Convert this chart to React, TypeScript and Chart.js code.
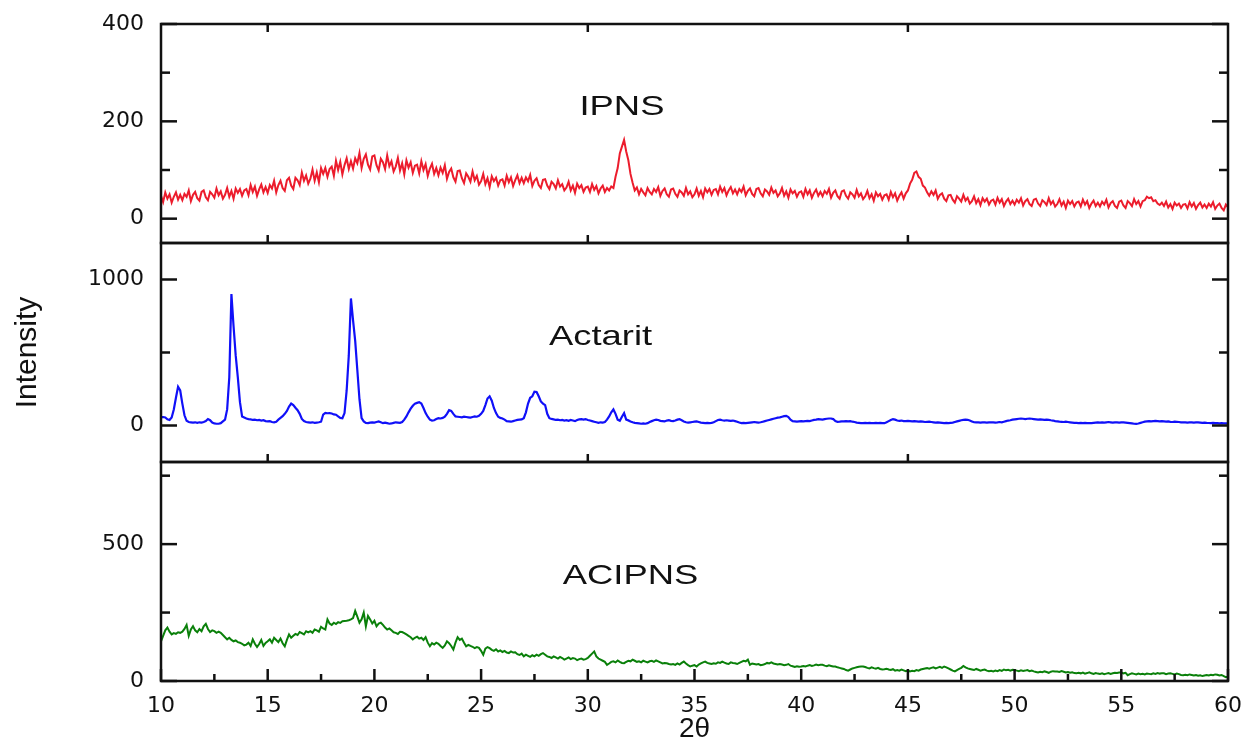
import React, { useEffect, useRef } from "react";
import { Chart, registerables } from "chart.js";

Chart.register(...registerables);

// 2θ grid of the recorded patterns
const twoThetaStart = 10;
const twoThetaStep = 0.1;

// IPNS (red) intensities, 10.0 … 60.0 in 0.1° steps
const ipnsIntensity = [
  47, 34, 54, 41, 50, 33, 45, 54, 39, 49,
  38, 51, 45, 58, 36, 49, 55, 42, 37, 55,
  58, 44, 38, 55, 50, 43, 62, 48, 56, 41,
  49, 63, 45, 57, 41, 62, 53, 61, 47, 58,
  61, 48, 69, 55, 66, 47, 60, 70, 54, 65,
  53, 69, 62, 78, 54, 69, 78, 63, 57, 79,
  84, 68, 61, 84, 79, 69, 95, 78, 89, 72,
  82, 101, 78, 95, 75, 104, 92, 104, 86, 102,
  107, 88, 119, 100, 117, 91, 110, 124, 102, 118,
  103, 124, 114, 135, 104, 123, 132, 111, 101, 128,
  130, 110, 99, 123, 116, 102, 130, 108, 118, 97,
  107, 125, 99, 114, 91, 120, 105, 116, 94, 109,
  111, 93, 118, 100, 112, 88, 103, 113, 92, 104,
  89, 105, 94, 110, 82, 96, 103, 85, 76, 98,
  99, 83, 73, 93, 86, 76, 97, 79, 88, 70,
  77, 92, 71, 83, 65, 87, 77, 84, 68, 79,
  81, 68, 88, 75, 85, 67, 79, 89, 73, 84,
  73, 85, 77, 90, 67, 78, 83, 69, 63, 80,
  81, 68, 61, 76, 71, 62, 79, 66, 71, 58,
  64, 76, 58, 68, 53, 72, 63, 69, 55, 64,
  66, 55, 71, 59, 67, 52, 62, 68, 55, 63,
  58, 66, 63, 86, 104, 134, 148, 162, 138, 120,
  92, 74, 58, 64, 50, 61, 54, 48, 63, 55,
  50, 61, 55, 65, 47, 57, 62, 50, 45, 60,
  62, 51, 45, 58, 54, 47, 63, 50, 56, 44,
  50, 62, 47, 57, 44, 62, 54, 61, 49, 59,
  61, 50, 66, 55, 63, 48, 58, 65, 52, 60,
  50, 61, 55, 66, 48, 57, 62, 51, 46, 61,
  63, 52, 46, 60, 56, 49, 64, 53, 58, 46,
  52, 63, 47, 56, 43, 60, 52, 57, 45, 54,
  56, 45, 61, 50, 58, 43, 53, 60, 47, 55,
  46, 57, 51, 61, 43, 53, 58, 46, 41, 56,
  58, 47, 41, 54, 50, 43, 59, 46, 52, 40,
  46, 57, 42, 50, 37, 54, 46, 51, 39, 48,
  50, 39, 55, 44, 52, 37, 47, 54, 41, 52,
  58, 72, 80, 94, 97, 86, 82, 68, 64, 54,
  47, 56, 49, 58, 41, 49, 52, 41, 36, 48,
  49, 39, 33, 46, 41, 35, 49, 37, 43, 31,
  36, 46, 32, 40, 28, 42, 35, 41, 29, 37,
  39, 29, 43, 33, 40, 26, 35, 41, 30, 37,
  29, 39, 33, 42, 27, 36, 40, 30, 26, 39,
  41, 31, 26, 38, 34, 28, 42, 30, 36, 25,
  30, 40, 27, 35, 22, 37, 30, 36, 25, 33,
  35, 25, 39, 29, 36, 22, 31, 37, 26, 33,
  25, 35, 29, 39, 23, 32, 36, 26, 22, 35,
  37, 27, 22, 36, 32, 26, 40, 30, 36, 25,
  36, 38, 45, 42, 44, 36, 38, 31, 28, 33,
  26, 35, 23, 30, 20, 33, 27, 31, 22, 29,
  30, 21, 34, 25, 32, 20, 28, 33, 23, 29,
  22, 31, 25, 34, 20, 27, 31, 22, 17, 29,
  23,
];

// Actarit (blue) intensities, 10.0 … 60.0 in 0.1° steps
const actaritIntensity = [
  58, 58, 55, 42, 38, 55, 110, 190, 265, 240,
  150, 70, 32, 24, 22, 20, 22, 18, 22, 20,
  24, 30, 44, 36, 20, 14, 12, 12, 16, 28,
  40, 110, 330, 900, 680, 480, 330, 160, 62, 55,
  48, 44, 42, 38, 40, 36, 38, 34, 36, 30,
  28, 30, 24, 22, 26, 40, 52, 64, 80, 100,
  130, 150, 140, 122, 105, 80, 45, 30, 24, 22,
  20, 22, 18, 20, 22, 26, 75, 86, 84, 85,
  82, 76, 74, 62, 52, 50, 85, 240, 480, 870,
  720, 580, 380, 180, 50, 28, 18, 16, 20, 22,
  20, 24, 28, 22, 16, 20, 16, 12, 14, 18,
  22, 20, 18, 24, 40, 62, 90, 115, 135, 150,
  155, 160, 150, 120, 85, 60, 40, 34, 36, 44,
  50, 48, 52, 60, 80, 105, 100, 80, 62, 60,
  58, 56, 60, 58, 56, 54, 58, 62, 60, 66,
  80, 100, 140, 185, 200, 170, 120, 85, 60, 52,
  48, 40, 30, 28, 26, 30, 34, 38, 40, 42,
  50, 90, 150, 190, 200, 232, 230, 200, 165, 150,
  140, 80, 50, 45, 42, 38, 40, 36, 38, 34,
  36, 32, 38, 34, 30, 38, 42, 44, 40, 44,
  38, 34, 30, 26, 22, 18, 22, 20, 24, 40,
  62, 90, 110, 80, 40, 32, 60, 85, 40, 35,
  28, 22, 18, 16, 14, 12, 14, 12, 16, 24,
  30, 36, 40, 38, 32, 30, 28, 34, 36, 32,
  30, 34, 40, 44, 36, 28, 22, 20, 22, 24,
  26, 28, 24, 20, 18, 16, 18, 16, 18, 22,
  30, 38, 40, 36, 34, 36, 34, 32, 34, 30,
  26, 20, 16, 18, 16, 18, 20, 22, 24, 22,
  20, 22, 26, 30, 34, 38, 42, 46, 50, 54,
  56, 60, 64, 66, 58, 40, 30, 28, 26, 28,
  30, 28, 30, 32, 30, 34, 38, 40, 44, 42,
  40, 44, 46, 48, 48, 44, 30, 25, 26, 28,
  28, 30, 28, 30, 26, 24, 20, 18, 16, 16,
  18, 16, 18, 16, 16, 18, 16, 18, 16, 16,
  22, 30, 38, 44, 40, 34, 32, 34, 30, 30,
  32, 30, 28, 30, 28, 26, 28, 26, 24, 25,
  26, 24, 22, 20, 22, 20, 18, 16, 18, 16,
  18, 20, 24, 28, 32, 36, 38, 40, 39, 34,
  28, 22, 21, 22, 20, 22, 21, 20, 22, 21,
  22, 20, 21, 24, 22, 26, 30, 34, 36, 40,
  42, 44, 46, 48, 46, 44, 46, 48, 46, 44,
  42, 40, 42, 40, 38, 40, 39, 36, 34, 30,
  28, 26, 25, 24, 26, 24, 22, 20, 18, 18,
  16, 18, 16, 18, 16, 17, 16, 18, 20, 22,
  20, 22, 20, 22, 24, 22, 20, 22, 21, 20,
  22, 21, 20, 18, 16, 14, 12, 11, 14, 18,
  22, 26, 28, 30, 28, 30, 32, 30, 28, 30,
  28, 26, 28, 25, 24, 26, 25, 24, 22, 21,
  22, 20, 21, 22, 20, 21, 22, 20, 18, 20,
  18, 17, 16, 18, 16, 16, 15, 16, 14, 15,
  14,
];

// ACIPNS (green) intensities, 10.0 … 60.0 in 0.1° steps
const acipnsIntensity = [
  145, 165, 185, 195, 180, 170, 175, 172, 178, 176,
  180, 190, 205, 165, 188, 200, 185, 178, 190, 182,
  200, 209, 190, 179, 185, 182, 176, 180, 176, 168,
  160, 152, 158, 150, 145, 148, 142, 140, 136, 130,
  133, 140, 128, 152, 136, 124, 135, 150, 128, 139,
  145, 152, 140, 158, 150, 142, 155, 138, 127, 150,
  170, 158, 165, 172, 168, 179, 175, 170, 182, 178,
  182, 176, 188, 185, 180, 198, 192, 188, 225, 210,
  205, 213, 208, 215, 212, 218, 219, 220, 222, 225,
  230, 256, 235, 213, 225, 250, 200, 238, 225, 210,
  220, 200, 210, 213, 205, 195, 188, 192, 185, 178,
  176, 172, 180, 179, 175, 170, 165, 160, 152, 158,
  162, 155, 158, 150, 160, 140, 127, 138, 133, 140,
  136, 128, 121, 130, 145, 138, 128, 115, 140, 160,
  150, 155, 140, 127, 132, 128, 125, 120, 124, 121,
  110, 96, 118, 124, 120, 114, 110, 116, 108, 112,
  106, 110, 104, 102, 108, 104, 105, 98, 95, 100,
  90, 96, 92, 88, 94, 90, 96, 92, 98, 102,
  96, 90, 88, 84, 90, 86, 82, 88, 84, 78,
  82, 86, 80, 84, 82, 76, 80, 82, 78, 80,
  84, 92, 100, 108, 90, 82, 78, 74, 70, 59,
  64, 70, 72, 68, 75, 70, 66, 65, 70, 74,
  72, 78, 74, 70, 72, 68, 74, 71, 68, 72,
  74, 70, 75, 72, 68, 64, 66, 65, 62, 60,
  62, 59, 64, 60, 66, 71, 64, 58, 53, 56,
  58, 53, 60, 64, 68, 71, 66, 64, 62, 65,
  63, 68, 66, 71, 67, 64, 62, 68, 66, 65,
  62, 66, 70, 74, 72, 78, 59, 64, 62, 60,
  62, 58, 59, 62, 66, 64, 68, 64, 62, 60,
  62, 60, 58, 59, 62, 56, 54, 51, 54, 52,
  53, 55, 53, 56, 58, 55, 57, 60, 58, 59,
  59, 56, 54, 57, 55, 53, 53, 50, 48, 46,
  44, 40, 38, 42, 46, 48, 50, 52, 53, 53,
  51, 48, 46, 50, 47, 45, 48, 44, 42, 43,
  45, 42, 40, 43, 38, 40, 38, 42, 39, 36,
  38, 35, 37, 36, 40, 38, 42, 44, 46, 47,
  45, 48, 50, 46, 49, 52, 48, 53, 50, 46,
  42, 38, 35, 40, 44, 48, 55, 50, 46, 44,
  42, 40, 44, 41, 38, 40, 42, 38, 36, 37,
  35, 38, 36, 40, 37, 42, 39, 41, 38, 41,
  40, 38, 36, 39, 37, 38, 40, 36, 38, 35,
  33, 31, 34, 32, 35, 33, 30, 34, 36, 35,
  35, 33, 36, 34, 31, 33, 30, 32, 29, 28,
  30, 28, 31, 27, 29, 32, 28, 26, 29, 27,
  26, 28, 25, 27, 29, 26, 28, 30, 29, 31,
  31, 28, 30, 21, 25, 28, 26, 24, 27, 25,
  26, 24, 27, 26, 25, 28, 26, 29, 27, 28,
  28, 25, 27, 28, 26, 24, 27, 25, 22, 21,
  23, 21, 24, 22, 20, 22, 19, 21, 18, 20,
  22, 20, 23, 21, 24, 23, 20, 22, 18, 14,
  16,
];

// axis ticks
const xTickValues = [10, 15, 20, 25, 30, 35, 40, 45, 50, 55, 60];
const xMinorTickValues = [12.5, 17.5, 22.5, 27.5, 32.5, 37.5, 42.5, 47.5, 52.5, 57.5];
const xPanelEdgeTickValues = [15, 30, 45];
const ipnsTickValues = [0, 200, 400];
const ipnsMinorTickValues = [100, 300];
const actaritTickValues = [0, 1000];
const actaritMinorTickValues = [500];
const acipnsTickValues = [0, 500];
const acipnsMinorTickValues = [250, 750];

const panelNames = ["IPNS", "Actarit", "ACIPNS"];

const TICK_FONT = { family: '"DejaVu Sans", sans-serif', size: 22 };
const TITLE_FONT = { family: '"Liberation Sans", Arial, sans-serif', size: 30 };
const INK = "#111111";

const toPoints = (values: number[]) =>
  values.map((y, i) => ({ x: Math.round((twoThetaStart + i * twoThetaStep) * 100) / 100, y }));

const panelAxes = [
  { id: "yA", label: panelNames[0], major: ipnsTickValues, minor: ipnsMinorTickValues, labelX: 31.6, labelY: 214 },
  { id: "yB", label: panelNames[1], major: actaritTickValues, minor: actaritMinorTickValues, labelX: 30.6, labelY: 554 },
  { id: "yC", label: panelNames[2], major: acipnsTickValues, minor: acipnsMinorTickValues, labelX: 32.0, labelY: 355 },
];

const framePlugin = {
  id: "xrdFrame",
  afterDraw(chart: any) {
    const { ctx, chartArea } = chart;
    const xs = chart.scales.x;
    const L = chartArea.left;
    const R = chartArea.right;
    ctx.save();
    ctx.strokeStyle = INK;
    ctx.lineWidth = 2.5;
    ctx.lineCap = "butt";
    const line = (x1: number, y1: number, x2: number, y2: number) => {
      ctx.beginPath();
      ctx.moveTo(x1, y1);
      ctx.lineTo(x2, y2);
      ctx.stroke();
    };
    panelAxes.forEach((p, idx) => {
      const ys = chart.scales[p.id];
      const T = ys.top;
      const B = ys.bottom;
      ctx.strokeRect(L, T, R - L, B - T);
      p.major.forEach((v) => {
        const y = ys.getPixelForValue(v);
        line(L, y, L + 16, y);
        line(R, y, R - 16, y);
      });
      p.minor.forEach((v) => {
        const y = ys.getPixelForValue(v);
        line(L, y, L + 9, y);
        line(R, y, R - 9, y);
      });
      if (idx < 2) {
        xPanelEdgeTickValues.forEach((v) => {
          const x = xs.getPixelForValue(v);
          line(x, B, x, B - 8);
        });
      }
      if (idx === 0) {
        xPanelEdgeTickValues.forEach((v) => {
          const x = xs.getPixelForValue(v);
          line(x, T, x, T + 8);
        });
      }
      // panel name
      ctx.save();
      ctx.fillStyle = INK;
      ctx.font = '28px "Liberation Sans", Arial, sans-serif';
      ctx.textAlign = "center";
      ctx.textBaseline = "alphabetic";
      ctx.translate(xs.getPixelForValue(p.labelX), ys.getPixelForValue(p.labelY));
      ctx.scale(1.3, 1);
      ctx.fillText(p.label, 0, 0);
      ctx.restore();
    });
    const bottom = chartArea.bottom;
    xTickValues.forEach((v) => {
      const x = xs.getPixelForValue(v);
      line(x, bottom, x, bottom - 12);
    });
    xMinorTickValues.forEach((v) => {
      const x = xs.getPixelForValue(v);
      line(x, bottom, x, bottom - 7);
    });
    ctx.restore();
  },
};

const makeYAxis = (min: number, max: number, ticks: number[], title?: string) => ({
  type: "linear" as const,
  position: "left" as const,
  stack: "panels",
  stackWeight: 1,
  min,
  max,
  afterBuildTicks: (scale: any) => {
    scale.ticks = ticks.map((v) => ({ value: v }));
  },
  afterFit: (scale: any) => {
    scale.width = 161;
    scale.paddingTop = 0;
    scale.paddingBottom = 0;
  },
  ticks: { font: TICK_FONT, color: INK, padding: 17, callback: (v: any) => String(v) },
  grid: { display: false, drawTicks: false },
  border: { display: false },
  title: {
    display: !!title,
    text: title || "",
    font: TITLE_FONT,
    color: INK,
    padding: { top: 10, bottom: 0 },
  },
});

export default function App() {
  const canvasRef = useRef<HTMLCanvasElement | null>(null);

  useEffect(() => {
    if (!canvasRef.current) return;
    const chart = new Chart(canvasRef.current, {
      type: "line",
      data: {
        datasets: [
          {
            label: panelNames[0],
            data: toPoints(ipnsIntensity),
            yAxisID: "yA",
            borderColor: "#ec1c2c",
            borderWidth: 2,
            pointRadius: 0,
            tension: 0,
          },
          {
            label: panelNames[1],
            data: toPoints(actaritIntensity),
            yAxisID: "yB",
            borderColor: "#1010f8",
            borderWidth: 2.2,
            pointRadius: 0,
            tension: 0,
          },
          {
            label: panelNames[2],
            data: toPoints(acipnsIntensity),
            yAxisID: "yC",
            borderColor: "#0a800a",
            borderWidth: 2,
            pointRadius: 0,
            tension: 0,
          },
        ],
      },
      options: {
        responsive: false,
        animation: false,
        devicePixelRatio: 1,
        layout: { padding: { left: 0, right: 21, top: 24, bottom: 0 } },
        plugins: { legend: { display: false }, tooltip: { enabled: false } },
        scales: {
          x: {
            type: "linear",
            position: "bottom",
            min: 10,
            max: 60,
            afterBuildTicks: (scale: any) => {
              scale.ticks = xTickValues.map((v) => ({ value: v }));
            },
            afterFit: (scale: any) => {
              scale.height = 60;
              scale.paddingLeft = 0;
              scale.paddingRight = 0;
            },
            ticks: { font: TICK_FONT, color: INK, padding: 12, maxRotation: 0, autoSkip: false },
            grid: { display: false, drawTicks: false },
            border: { display: false },
            title: {
              display: true,
              text: "2θ",
              font: { family: '"Liberation Sans", Arial, sans-serif', size: 28 },
              color: INK,
              padding: { top: 0, bottom: -5 },
            },
          },
          yC: makeYAxis(0, 800, acipnsTickValues),
          yB: makeYAxis(-250, 1250, actaritTickValues, "Intensity"),
          yA: makeYAxis(-50, 400, ipnsTickValues),
        },
      },
      plugins: [framePlugin],
    } as any);
    return () => chart.destroy();
  }, []);

  return (
    <div style={{ position: "fixed", left: 0, top: 0, width: 1249, height: 741, background: "#ffffff" }}>
      <canvas ref={canvasRef} width={1249} height={741} style={{ display: "block" }} />
    </div>
  );
}
